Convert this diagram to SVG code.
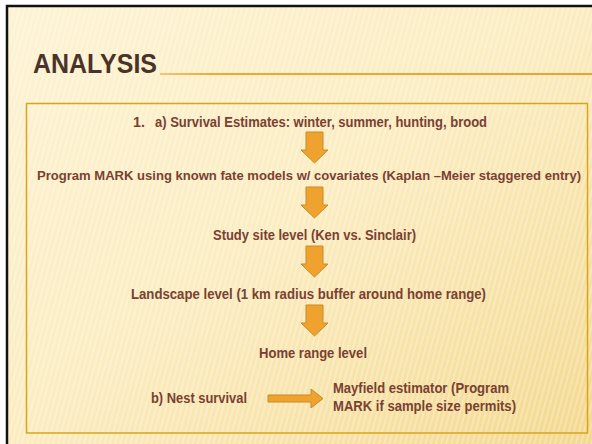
<svg xmlns="http://www.w3.org/2000/svg" width="592" height="444" viewBox="0 0 592 444">
  <defs>
    <linearGradient id="bg" x1="0" y1="0" x2="1" y2="1">
      <stop offset="0" stop-color="#fdf3d4"/>
      <stop offset="0.5" stop-color="#fbecc0"/>
      <stop offset="1" stop-color="#f3d88e"/>
    </linearGradient>
    <pattern id="stripes" width="5" height="5" patternUnits="userSpaceOnUse" patternTransform="rotate(15)">
      <rect width="2" height="5" fill="#ffffff" opacity="0.25"/>
    </pattern>
    <linearGradient id="rule" x1="0" y1="0" x2="1" y2="0">
      <stop offset="0" stop-color="#f3c779"/>
      <stop offset="0.12" stop-color="#f0a832"/>
      <stop offset="1" stop-color="#f0a030"/>
    </linearGradient>
    <g id="down">
      <path d="M-8.5,0 H8.5 V18 H13.5 L0,31 L-13.5,18 H-8.5 Z" fill="#f0a22e" stroke="#c98a25" stroke-width="1"/>
    </g>
  </defs>
  <style>
    .t { font-family: "Liberation Sans", Arial, sans-serif; font-weight: bold; font-size: 14.5px; fill: #7a4131; }
    .wide { font-size: 13px; }
    .title { font-family: "Liberation Sans", Arial, sans-serif; font-weight: bold; font-size: 28px; fill: #4a3329; }
  </style>
  <rect width="592" height="444" fill="#ffffff"/>
  <rect x="7" y="6" width="585" height="438" fill="url(#bg)"/>
  <rect x="7" y="6" width="585" height="438" fill="url(#stripes)"/>
  <path d="M7,444 V6 H592" fill="none" stroke="#111111" stroke-width="2.5"/>

  <g id="title">
    <text class="title" x="33" y="73" textLength="124" lengthAdjust="spacingAndGlyphs">ANALYSIS</text>
    <rect x="160" y="73" width="432" height="2" fill="url(#rule)"/>
  </g>

  <g id="frame">
    <rect x="26.5" y="103.5" width="561" height="329.5" fill="none" stroke="#d8a41c" stroke-width="1.5"/>
  </g>

  <g id="n1">
    <text class="t" x="133" y="127" textLength="12" lengthAdjust="spacingAndGlyphs">1.</text>
    <text class="t" x="155" y="127" textLength="332" lengthAdjust="spacingAndGlyphs">a) Survival Estimates: winter, summer, hunting, brood</text>
  </g>
  <g id="n2"><text class="t wide" x="37" y="180" textLength="544" lengthAdjust="spacingAndGlyphs">Program MARK using known fate models w/ covariates (Kaplan –Meier staggered entry)</text></g>
  <g id="n3"><text class="t" x="213" y="240" textLength="203" lengthAdjust="spacingAndGlyphs">Study site level (Ken vs. Sinclair)</text></g>
  <g id="n4"><text class="t" x="131" y="299" textLength="355" lengthAdjust="spacingAndGlyphs">Landscape level (1 km radius buffer around home range)</text></g>
  <g id="n5"><text class="t" x="259" y="358" textLength="108" lengthAdjust="spacingAndGlyphs">Home range level</text></g>
  <g id="n6"><text class="t" x="151" y="403" textLength="96" lengthAdjust="spacingAndGlyphs">b) Nest survival</text></g>
  <g id="n7">
    <text class="t" x="333" y="393" textLength="176" lengthAdjust="spacingAndGlyphs">Mayfield estimator (Program</text>
    <text class="t" x="333" y="411" textLength="183" lengthAdjust="spacingAndGlyphs">MARK if sample size permits)</text>
  </g>

  <g id="connectors">
    <use href="#down" x="314.5" y="132"/>
    <use href="#down" x="314.5" y="187"/>
    <use href="#down" x="314.5" y="246"/>
    <use href="#down" x="314.5" y="305"/>
    <path d="M268,395 H311 V389 L323,398.5 L311,408 V402 H268 Z" fill="#f0a22e" stroke="#c98a25" stroke-width="1"/>
  </g>
</svg>
